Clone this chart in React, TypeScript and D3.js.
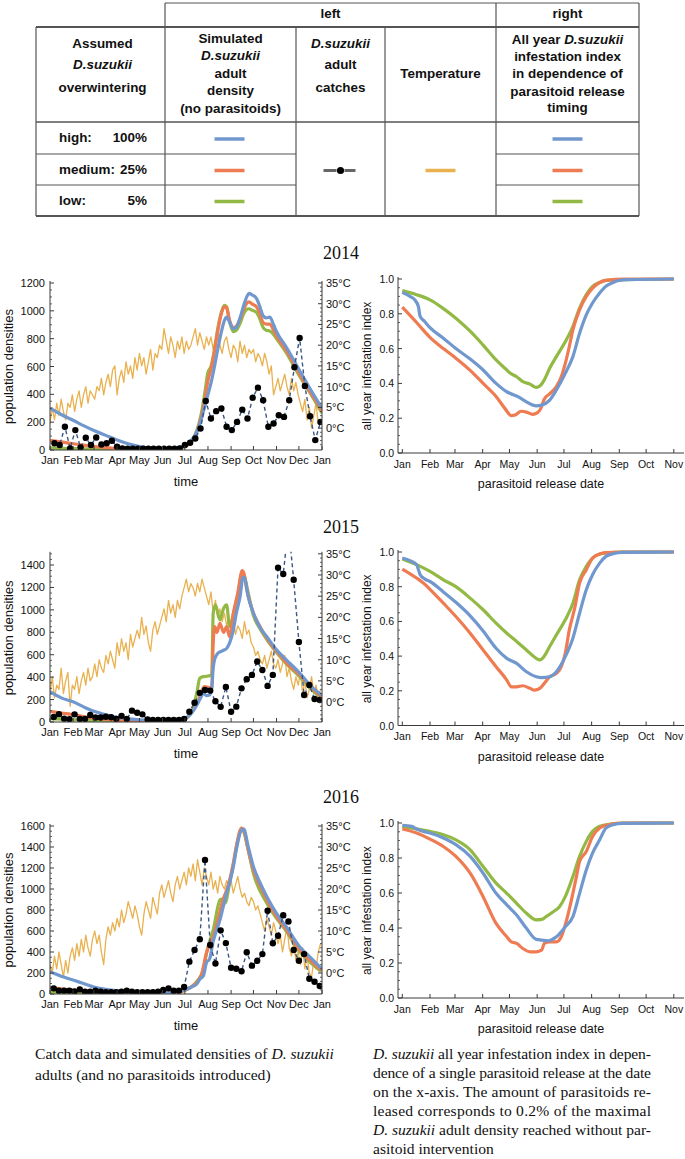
import React from "react";
import * as d3 from "d3";

const SANS = "'Liberation Sans', Arial, Helvetica, sans-serif";
const SERIF = "'Liberation Serif', 'Times New Roman', Times, serif";

const C_HIGH = "#7198ce";
const C_MED = "#ef7b52";
const C_LOW = "#93b945";
const C_TEMP = "#e9b14f";
const C_CATCH = "#3a5783";
const AXIS = "#3a3a3a";

const MONTH_START_DAYS = [0, 31, 59, 90, 120, 151, 181, 212, 243, 273, 304, 334, 365];
const MONTH_LABELS = ["Jan", "Feb", "Mar", "Apr", "May", "Jun", "Jul", "Aug", "Sep", "Oct", "Nov", "Dec", "Jan"];
const TEMP_STEP_DAYS = 3;
const CATCH_STEP_DAYS = 7;
const YEARS = [2014, 2015, 2016];

// ---- daily temperature (every 3rd day), °C ----
const temp2014 = [1, 5, 2, 6, 3, 7, 4, 2, 6, 5, 8, 4, 7, 9, 5, 8, 10, 6, 9, 8, 7, 10, 9, 12, 8, 11, 13, 10, 14, 15, 8, 12, 14, 11, 16, 13, 15, 12, 17, 14, 18, 15, 17, 13, 16, 19, 14, 18, 17, 20, 19, 24, 21, 18, 22, 20, 17, 21, 19, 22, 18, 21, 19, 20, 22, 24, 20, 23, 21, 19, 22, 20, 22, 19, 21, 23, 20, 18, 21, 22, 19, 17, 20, 19, 16, 21, 18, 20, 17, 19, 18, 19, 16, 18, 17, 15, 18, 16, 13, 15, 8, 10, 12, 9, 11, 13, 10, 8, 12, 9, 11, 8, 6, 4, 7, 2, 5, 0, 3, 6, 1, 2];
const temp2015 = [2, 6, 1, 4, 3, 8, 2, 5, 7, -1, 4, 3, 6, 2, 5, 7, 4, 8, 5, 6, 9, 6, 10, 8, 7, 11, 9, 12, 10, 8, 14, 11, 15, 12, 14, 10, 16, 13, 15, 17, 15, 20, 16, 18, 14, 12, 17, 19, 16, 18, 20, 22, 19, 24, 21, 23, 20, 24, 22, 25, 27, 29, 26, 28, 27, 25, 28, 26, 29, 27, 25, 23, 26, 21, 24, 20, 22, 19, 21, 18, 20, 17, 19, 16, 18, 17, 15, 19, 16, 17, 14, 13, 11, 12, 10, 9, 11, 8, 10, 12, 9, 8, 10, 7, 9, 11, 6, 8, 5, 3, 6, 4, 7, 2, 5, 1, 3, 6, 2, 4, 1, 3];
const temp2016 = [2, 0, 4, 1, 5, 2, -1, 3, 0, 4, 6, 3, 7, 4, 8, 5, 9, 6, 4, 8, 10, 7, 9, 5, 2, 8, 11, 9, 12, 10, 13, 11, 15, 12, 14, 17, 15, 13, 16, 14, 11, 9, 14, 17, 15, 13, 18, 16, 14, 19, 21, 18, 20, 22, 19, 17, 21, 23, 20, 22, 24, 21, 25, 23, 26, 22, 27, 24, 21, 25, 23, 21, 24, 20, 22, 19, 23, 21, 20, 22, 21, 22, 19, 21, 23, 20, 18, 19, 17, 16, 18, 17, 15, 16, 14, 12, 10, 13, 11, 9, 12, 10, 7, 9, 5, 8, 11, 6, 4, 7, 3, 5, 2, 6, 1, 4, 0, -1, 3, 1, 5, 7];

// ---- simulated adult densities [day, density] ----
const simHigh2014: [number, number][] = [[0, 300], [15, 255], [31, 214], [45, 175], [59, 140], [75, 105], [90, 72], [105, 45], [120, 25], [135, 14], [151, 10], [165, 12], [181, 30], [190, 70], [197, 130], [203, 220], [208, 320], [212, 400], [216, 480], [220, 580], [225, 720], [230, 850], [234, 930], [237, 955], [241, 920], [246, 870], [250, 880], [255, 950], [260, 1040], [264, 1100], [267, 1125], [271, 1115], [277, 1090], [281, 1040], [286, 965], [290, 950], [295, 955], [300, 900], [304, 850], [317, 740], [335, 570], [349, 440], [365, 300]];
const simMed2014: [number, number][] = [[0, 70], [15, 58], [31, 45], [45, 35], [59, 25], [75, 17], [90, 10], [105, 6], [120, 4], [135, 3], [151, 4], [165, 8], [181, 25], [190, 60], [197, 130], [203, 240], [208, 370], [212, 500], [216, 580], [220, 690], [225, 850], [230, 980], [234, 1030], [237, 1020], [241, 930], [246, 880], [250, 890], [255, 940], [260, 1010], [264, 1055], [267, 1065], [271, 1050], [277, 1030], [281, 990], [286, 915], [290, 905], [295, 905], [300, 860], [304, 820], [317, 715], [335, 545], [349, 420], [365, 280]];
const simLow2014: [number, number][] = [[0, 15], [15, 12], [31, 10], [45, 8], [59, 6], [75, 4], [90, 3], [105, 2], [120, 2], [135, 2], [151, 3], [165, 6], [181, 25], [190, 65], [197, 140], [203, 260], [208, 420], [212, 560], [216, 600], [220, 700], [225, 870], [230, 990], [234, 1040], [237, 1030], [241, 920], [246, 850], [250, 860], [255, 910], [260, 980], [264, 1010], [267, 1015], [271, 1005], [277, 990], [281, 950], [286, 880], [290, 860], [295, 855], [300, 830], [304, 800], [317, 700], [335, 530], [349, 410], [365, 265]];

const simHigh2015: [number, number][] = [[0, 270], [15, 215], [31, 180], [45, 135], [59, 95], [75, 65], [90, 42], [105, 28], [120, 20], [135, 14], [151, 10], [165, 14], [181, 30], [190, 80], [197, 150], [201, 200], [206, 255], [210, 235], [214, 240], [217, 300], [219, 480], [221, 560], [225, 610], [228, 625], [233, 640], [237, 655], [241, 705], [246, 820], [250, 970], [255, 1115], [259, 1290], [261, 1285], [266, 1115], [273, 970], [282, 840], [291, 760], [304, 645], [317, 555], [335, 437], [349, 330], [364, 241]];
const simMed2015: [number, number][] = [[0, 95], [15, 80], [31, 65], [45, 48], [59, 35], [75, 24], [90, 15], [105, 10], [120, 7], [135, 6], [151, 7], [165, 12], [181, 30], [190, 85], [197, 160], [201, 225], [207, 315], [212, 310], [217, 300], [219, 700], [221, 850], [224, 800], [228, 880], [233, 800], [237, 850], [241, 760], [246, 970], [252, 1150], [258, 1350], [260, 1330], [264, 1180], [273, 970], [282, 850], [291, 745], [304, 630], [317, 530], [335, 420], [349, 320], [364, 225]];
const simLow2015: [number, number][] = [[0, 30], [15, 25], [31, 20], [45, 15], [59, 11], [75, 8], [90, 5], [105, 4], [120, 3], [135, 3], [151, 4], [165, 10], [181, 30], [190, 90], [197, 260], [201, 390], [206, 405], [212, 410], [217, 420], [219, 970], [222, 1045], [228, 910], [233, 1015], [237, 1045], [241, 850], [246, 960], [252, 1135], [258, 1330], [261, 1300], [266, 1150], [273, 950], [282, 830], [291, 735], [304, 620], [317, 520], [335, 405], [349, 305], [364, 210]];

const simHigh2016: [number, number][] = [[0, 212], [15, 170], [31, 133], [45, 100], [59, 67], [75, 45], [90, 30], [105, 20], [120, 14], [135, 10], [151, 8], [165, 15], [181, 40], [190, 67], [197, 95], [201, 140], [206, 175], [210, 300], [214, 330], [219, 500], [228, 705], [237, 962], [241, 1057], [246, 1212], [250, 1371], [257, 1562], [260, 1570], [266, 1403], [273, 1212], [282, 1057], [291, 927], [304, 768], [317, 641], [335, 450], [349, 352], [364, 244]];
const simMed2016: [number, number][] = [[0, 60], [15, 48], [31, 38], [45, 30], [59, 22], [75, 15], [90, 10], [105, 7], [120, 5], [135, 4], [151, 5], [165, 10], [181, 35], [190, 70], [197, 110], [203, 180], [210, 390], [214, 470], [219, 546], [226, 724], [232, 895], [237, 990], [241, 1085], [246, 1248], [250, 1403], [257, 1581], [260, 1560], [266, 1370], [273, 1180], [282, 1030], [291, 896], [304, 740], [317, 615], [335, 419], [349, 320], [364, 229]];
const simLow2016: [number, number][] = [[0, 20], [15, 16], [31, 12], [45, 9], [59, 7], [75, 5], [90, 4], [105, 3], [120, 2], [135, 2], [151, 3], [165, 8], [181, 35], [190, 70], [197, 120], [206, 229], [210, 390], [219, 610], [228, 895], [230, 905], [235, 866], [241, 1057], [246, 1230], [252, 1467], [257, 1568], [259, 1560], [266, 1370], [273, 1148], [291, 864], [304, 720], [317, 600], [335, 403], [349, 305], [364, 213]];

// ---- weekly adult catches ----
const catchStart = { 2014: 6, 2015: 5, 2016: 5 };
const catches2014 = [48, 36, 167, 12, 143, 19, 88, 36, 90, 40, 48, 67, 24, 12, 10, 9, 9, 10, 9, 9, 10, 10, 9, 10, 12, 36, 52, 83, 155, 352, 226, 279, 298, 167, 143, 202, 290, 226, 376, 448, 357, 167, 190, 250, 238, 357, 595, 805, 460, 243, 71, 202];
const catches2015 = [45, 70, 30, 25, 68, 27, 27, 62, 40, 40, 47, 43, 27, 55, 27, 101, 83, 68, 22, 18, 18, 18, 18, 18, 18, 27, 92, 172, 260, 285, 280, 185, 135, 312, 92, 137, 300, 381, 420, 539, 464, 322, 420, 1375, 1320, 1750, 1268, 714, 241, 330, 205, 196];
const catches2016 = [54, 32, 32, 32, 25, 44, 22, 22, 32, 22, 18, 18, 18, 22, 32, 22, 18, 18, 18, 18, 22, 38, 54, 32, 32, 67, 308, 419, 521, 1276, 467, 290, 606, 485, 250, 241, 216, 398, 270, 316, 380, 793, 483, 555, 750, 690, 419, 316, 380, 145, 117, 76];

// ---- all year infestation index vs release day [day, index] ----
const idxHigh2014: [number, number][] = [[0, .923], [8.6, .90], [14, .88], [18, .842], [20, .785], [25, .756], [31, .72], [46, .66], [60, .60], [76, .54], [90.5, .477], [105, .40], [117, .352], [121, .342], [130, .323], [139, .294], [150, .271], [156, .275], [165, .304], [172.5, .362], [182.5, .458], [191, .554], [198.5, .688], [206, .794], [213, .862], [221, .919], [228, .958], [236, .98], [243, .992], [254, .996], [304, 1.0]];
const idxMed2014: [number, number][] = [[0, .838], [16, .75], [31, .665], [46, .60], [60, .545], [76, .475], [90.5, .40], [105, .325], [115, .255], [122, .215], [127, .22], [133, .24], [139, .235], [146, .222], [151, .23], [155, .255], [159, .31], [165, .34], [172.5, .381], [178, .438], [182.5, .515], [187, .612], [191, .708], [198.5, .823], [206, .90], [213, .948], [221, .98], [228, .992], [250, 1.0], [304, 1.0]];
const idxLow2014: [number, number][] = [[0, .933], [16, .91], [31, .88], [46, .83], [60, .775], [76, .70], [90.5, .62], [105, .535], [117, .477], [121, .458], [128, .438], [135, .41], [143, .396], [150, .377], [154, .385], [159, .42], [165, .487], [172.5, .554], [182.5, .64], [191, .727], [198.5, .833], [206, .91], [213, .958], [221, .98], [228, .992], [243, .996], [304, 1.0]];

const idxHigh2015: [number, number][] = [[0, .965], [10.4, .946], [16, .927], [20, .869], [25, .845], [31, .83], [46, .77], [60, .71], [76, .632], [90.5, .545], [105, .445], [117, .387], [128, .358], [139, .31], [150, .281], [156, .276], [165, .281], [172.5, .31], [182.5, .397], [191, .503], [198.5, .647], [206, .782], [213, .869], [221, .936], [228, .975], [236, .99], [247, .998], [304, 1.0]];
const idxMed2015: [number, number][] = [[0, .902], [16, .85], [25, .815], [31, .785], [46, .705], [60, .628], [76, .532], [90.5, .435], [105, .339], [117, .262], [122, .223], [128, .223], [135, .229], [143, .214], [148, .204], [154, .214], [159, .243], [165, .281], [172.5, .30], [178, .339], [182.5, .416], [187, .551], [193, .676], [198.5, .821], [206, .898], [213, .965], [221, .988], [228, .996], [247, 1.0], [304, 1.0]];
const idxLow2015: [number, number][] = [[0, .96], [16, .927], [31, .888], [46, .84], [60, .80], [76, .734], [90.5, .667], [105, .59], [117, .532], [128, .484], [139, .435], [150, .387], [154, .378], [159, .40], [165, .455], [172.5, .522], [182.5, .609], [191, .705], [198.5, .84], [206, .917], [213, .965], [221, .988], [228, .994], [247, 1.0], [304, 1.0]];

const idxHigh2016: [number, number][] = [[0, .987], [10.4, .981], [16, .966], [23.5, .952], [31, .943], [46, .914], [60, .876], [76, .809], [90.5, .713], [105, .598], [117, .532], [128, .474], [139, .398], [150, .335], [156, .331], [163, .327], [172.5, .35], [182.5, .407], [191, .465], [198.5, .598], [206, .732], [213, .828], [221, .904], [228, .971], [236, .99], [247, .998], [304, 1.0]];
const idxMed2016: [number, number][] = [[0, .966], [16, .943], [31, .908], [46, .866], [60, .809], [76, .713], [90.5, .579], [105, .426], [117, .35], [122, .321], [128, .312], [135, .283], [143, .264], [150, .264], [156, .273], [159, .312], [165, .321], [172.5, .321], [178, .35], [184, .446], [191, .598], [195, .694], [198.5, .78], [206, .837], [213, .923], [221, .971], [228, .987], [247, 1.0], [304, 1.0]];
const idxLow2016: [number, number][] = [[0, .98], [16, .966], [31, .952], [46, .933], [60, .904], [76, .847], [90.5, .751], [105, .656], [117, .598], [128, .541], [139, .484], [150, .446], [156, .449], [161, .465], [169, .493], [176, .522], [182.5, .579], [191, .694], [198.5, .809], [206, .895], [213, .952], [221, .981], [228, .99], [247, 1.0], [304, 1.0]];

const DATA: any = {
  2014: { temp: temp2014, high: simHigh2014, med: simMed2014, low: simLow2014, catches: catches2014, iH: idxHigh2014, iM: idxMed2014, iL: idxLow2014 },
  2015: { temp: temp2015, high: simHigh2015, med: simMed2015, low: simLow2015, catches: catches2015, iH: idxHigh2015, iM: idxMed2015, iL: idxLow2015 },
  2016: { temp: temp2016, high: simHigh2016, med: simMed2016, low: simLow2016, catches: catches2016, iH: idxHigh2016, iM: idxMed2016, iL: idxLow2016 },
};

// ---- layout ----
const LEFT_LAYOUT: any = {
  2014: { top: 283, bottom: 450, popMax: 1200, tempMin: -5.28, titleY: 259 },
  2015: { top: 553.8, bottom: 722, popMax: 1500, tempMin: -4.7, titleY: 533 },
  2016: { top: 826, bottom: 994, popMax: 1600, tempMin: -5.0, titleY: 803 },
};
const RIGHT_LAYOUT: any = {
  2014: { top: 279, bottom: 453 },
  2015: { top: 552, bottom: 725.5 },
  2016: { top: 823, bottom: 998 },
};

function LeftPanel({ year }: { year: number }) {
  const L = LEFT_LAYOUT[year];
  const D = DATA[year];
  const x = d3.scaleLinear().domain([0, 365]).range([50, 322]);
  const y = d3.scaleLinear().domain([0, L.popMax]).range([L.bottom, L.top]);
  const yt = d3.scaleLinear().domain([L.tempMin, 35]).range([L.bottom, L.top]);
  const tempLine = d3.line<number>().x((_, i) => x(i * TEMP_STEP_DAYS)).y((d) => yt(d));
  const simLine = d3.line<[number, number]>().x((d) => x(d[0])).y((d) => y(d[1])).curve(d3.curveMonotoneX);
  const cs = (catchStart as any)[year];
  const catchPts: [number, number][] = D.catches.map((v: number, i: number) => [cs + i * CATCH_STEP_DAYS, v]);
  const catchLine = d3.line<[number, number]>().x((d) => x(d[0])).y((d) => y(d[1]));
  const majors = d3.range(0, L.popMax + 1, 200);
  const minors = d3.range(0, L.popMax + 1, 50).filter((v) => v % 200 !== 0);
  const tMaj = d3.range(0, 36, 5);
  const tMin = d3.range(-5, 36, 1).filter((v) => v % 5 !== 0 && v >= L.tempMin);
  const clipId = `clipL${year}`;
  const [x0, x1] = x.range();
  const yTopAxis = L.top - 2;
  return (
    <g>
      <defs>
        <clipPath id={clipId}>
          <rect x={x0} y={L.top - 2} width={x1 - x0} height={L.bottom - L.top + 2} />
        </clipPath>
      </defs>
      <g clipPath={`url(#${clipId})`}>
        <path d={tempLine(D.temp) || ""} fill="none" stroke={C_TEMP} strokeWidth={1.3} strokeLinejoin="round" />
        <path d={simLine(D.low) || ""} fill="none" stroke={C_LOW} strokeWidth={3.2} strokeLinejoin="round" />
        <path d={simLine(D.med) || ""} fill="none" stroke={C_MED} strokeWidth={3.2} strokeLinejoin="round" />
        <path d={simLine(D.high) || ""} fill="none" stroke={C_HIGH} strokeWidth={3.2} strokeLinejoin="round" />
        <path d={catchLine(catchPts) || ""} fill="none" stroke={C_CATCH} strokeWidth={1.4} strokeDasharray="4 3" />
        {catchPts.map((p, i) => (
          <circle key={i} cx={x(p[0])} cy={y(p[1])} r={3.2} fill="#000" />
        ))}
      </g>
      <line x1={x0} x2={x0} y1={yTopAxis} y2={L.bottom} stroke={AXIS} strokeWidth={1} />
      <line x1={x1} x2={x1} y1={yTopAxis} y2={L.bottom} stroke={AXIS} strokeWidth={1} />
      <line x1={x0} x2={x1} y1={L.bottom} y2={L.bottom} stroke={AXIS} strokeWidth={1} />
      {majors.map((v) => (
        <g key={"m" + v}>
          <line x1={x0} x2={x0 + 4} y1={y(v)} y2={y(v)} stroke={AXIS} />
          <text x={x0 - 5} y={y(v) + 4} textAnchor="end" fontFamily={SANS} fontSize={11} fill="#111">{v}</text>
        </g>
      ))}
      {minors.map((v) => (
        <line key={"n" + v} x1={x0} x2={x0 + 2} y1={y(v)} y2={y(v)} stroke={AXIS} strokeWidth={0.8} />
      ))}
      {tMaj.map((v) => (
        <g key={"t" + v}>
          <line x1={x1 - 4} x2={x1} y1={yt(v)} y2={yt(v)} stroke={AXIS} />
          <text x={x1 + 4} y={yt(v) + 4} textAnchor="start" fontFamily={SANS} fontSize={11} fill="#111">{`${v}°C`}</text>
        </g>
      ))}
      {tMin.map((v) => (
        <line key={"u" + v} x1={x1 - 2} x2={x1} y1={yt(v)} y2={yt(v)} stroke={AXIS} strokeWidth={0.8} />
      ))}
      {MONTH_START_DAYS.map((d, i) => (
        <g key={"x" + i}>
          <line x1={x(d)} x2={x(d)} y1={L.bottom} y2={L.bottom - 4} stroke={AXIS} />
          <text x={x(d)} y={L.bottom + 14} textAnchor="middle" fontFamily={SANS} fontSize={11} fill="#111">{MONTH_LABELS[i]}</text>
        </g>
      ))}
      <text x={(x0 + x1) / 2} y={L.bottom + 36} textAnchor="middle" fontFamily={SANS} fontSize={13} fill="#111">time</text>
      <text transform={`translate(13,${(L.top + L.bottom) / 2}) rotate(-90)`} textAnchor="middle" fontFamily={SANS} fontSize={13} fill="#111">population densities</text>
      <text x={341} y={L.titleY} textAnchor="middle" fontFamily={SERIF} fontSize={18} fill="#111">{year}</text>
    </g>
  );
}

function RightPanel({ year }: { year: number }) {
  const R = RIGHT_LAYOUT[year];
  const D = DATA[year];
  const x = d3.scaleLinear().domain([0, 304]).range([402.3, 673.8]);
  const y = d3.scaleLinear().domain([0, 1]).range([R.bottom, R.top]);
  const line = d3.line<[number, number]>().x((d) => x(d[0])).y((d) => y(d[1])).curve(d3.curveMonotoneX);
  const ax0 = 398, ax1 = 684;
  const majors = d3.range(0, 1.0001, 0.2);
  const minors = d3.range(0, 1.0001, 0.05).filter((v) => Math.abs(Math.round(v / 0.2) * 0.2 - v) > 1e-6);
  const fmt = d3.format(".1f");
  return (
    <g>
      <path d={line(D.iL) || ""} fill="none" stroke={C_LOW} strokeWidth={3.2} strokeLinejoin="round" />
      <path d={line(D.iM) || ""} fill="none" stroke={C_MED} strokeWidth={3.2} strokeLinejoin="round" />
      <path d={line(D.iH) || ""} fill="none" stroke={C_HIGH} strokeWidth={3.2} strokeLinejoin="round" />
      <line x1={ax0} x2={ax0} y1={R.top - 2} y2={R.bottom} stroke={AXIS} />
      <line x1={ax0} x2={ax1} y1={R.bottom} y2={R.bottom} stroke={AXIS} />
      {majors.map((v, i) => (
        <g key={"m" + i}>
          <line x1={ax0} x2={ax0 + 4} y1={y(v)} y2={y(v)} stroke={AXIS} />
          <text x={ax0 - 4} y={y(v) + 4} textAnchor="end" fontFamily={SANS} fontSize={10.5} fill="#111">{fmt(v)}</text>
        </g>
      ))}
      {minors.map((v, i) => (
        <line key={"n" + i} x1={ax0} x2={ax0 + 2} y1={y(v)} y2={y(v)} stroke={AXIS} strokeWidth={0.8} />
      ))}
      {MONTH_START_DAYS.slice(0, 11).map((d, i) => (
        <g key={"x" + i}>
          <line x1={x(d)} x2={x(d)} y1={R.bottom} y2={R.bottom - 4} stroke={AXIS} />
          <text x={x(d)} y={R.bottom + 14.5} textAnchor="middle" fontFamily={SANS} fontSize={10.5} fill="#111">{MONTH_LABELS[i]}</text>
        </g>
      ))}
      <text x={(ax0 + ax1) / 2} y={R.bottom + 35} textAnchor="middle" fontFamily={SANS} fontSize={12.5} fill="#111">parasitoid release date</text>
      <text transform={`translate(371,${(R.top + R.bottom) / 2}) rotate(-90)`} textAnchor="middle" fontFamily={SANS} fontSize={12} fill="#111">all year infestation index</text>
    </g>
  );
}

const TX = [36, 165, 296, 385, 496, 639];
const TY = { top: 3, head: 27, body: 122, r1: 154, r2: 185, bottom: 216 };

function TT({ x, y, children, anchor = "middle" }: any) {
  return (
    <text transform={`translate(${x},${y}) scale(1.12,1)`} textAnchor={anchor} fontFamily={SANS} fontWeight="bold" fontSize={12} fill="#111">
      {children}
    </text>
  );
}
const It = ({ children }: any) => <tspan fontStyle="italic">{children}</tspan>;

function LegendTable() {
  const bc = "#555";
  const c1 = (TX[0] + TX[1]) / 2 + 2, c2 = (TX[1] + TX[2]) / 2, c3 = (TX[2] + TX[3]) / 2, c4 = (TX[3] + TX[4]) / 2, c5 = (TX[4] + TX[5]) / 2;
  const rowY = [(TY.body + TY.r1) / 2, (TY.r1 + TY.r2) / 2, (TY.r2 + TY.bottom) / 2];
  const sw = (cx: number, cy: number, col: string) => <line x1={cx - 15} x2={cx + 15} y1={cy} y2={cy} stroke={col} strokeWidth={3.5} />;
  const swColors = [C_HIGH, C_MED, C_LOW];
  return (
    <g>
      <line x1={TX[1]} x2={TX[5]} y1={TY.top} y2={TY.top} stroke={bc} strokeWidth={1.2} />
      <line x1={TX[0]} x2={TX[5]} y1={TY.head} y2={TY.head} stroke={bc} strokeWidth={2.2} />
      <line x1={TX[0]} x2={TX[5]} y1={TY.body} y2={TY.body} stroke={bc} strokeWidth={1.4} />
      <line x1={TX[0]} x2={TX[2]} y1={TY.r1} y2={TY.r1} stroke={bc} strokeWidth={1.2} />
      <line x1={TX[4]} x2={TX[5]} y1={TY.r1} y2={TY.r1} stroke={bc} strokeWidth={1.2} />
      <line x1={TX[0]} x2={TX[2]} y1={TY.r2} y2={TY.r2} stroke={bc} strokeWidth={1.2} />
      <line x1={TX[4]} x2={TX[5]} y1={TY.r2} y2={TY.r2} stroke={bc} strokeWidth={1.2} />
      <line x1={TX[0]} x2={TX[5]} y1={TY.bottom} y2={TY.bottom} stroke={bc} strokeWidth={2} />
      {[1, 4, 5].map((i) => (
        <line key={"h" + i} x1={TX[i]} x2={TX[i]} y1={TY.top} y2={TY.head} stroke={bc} strokeWidth={1.2} />
      ))}
      {TX.map((xx, i) => (
        <line key={"v" + i} x1={xx} x2={xx} y1={TY.head} y2={TY.bottom} stroke={bc} strokeWidth={1.2} />
      ))}
      <TT x={(TX[1] + TX[4]) / 2} y={18}>left</TT>
      <TT x={c5} y={18}>right</TT>

      <TT x={c1} y={48}>Assumed</TT>
      <TT x={c1} y={69}><It>D.suzukii</It></TT>
      <TT x={c1} y={92}>overwintering</TT>

      <TT x={c2} y={43}>Simulated</TT>
      <TT x={c2} y={60}><It>D.suzukii</It></TT>
      <TT x={c2} y={78}>adult</TT>
      <TT x={c2} y={95}>density</TT>
      <TT x={c2} y={113}>(no parasitoids)</TT>

      <TT x={c3} y={48}><It>D.suzukii</It></TT>
      <TT x={c3} y={69}>adult</TT>
      <TT x={c3} y={92}>catches</TT>

      <TT x={c4} y={78}>Temperature</TT>

      <TT x={c5} y={44}>All year <It>D.suzukii</It></TT>
      <TT x={c5} y={61}>infestation index</TT>
      <TT x={c5} y={78}>in dependence of</TT>
      <TT x={c5} y={96}>parasitoid release</TT>
      <TT x={c5} y={112}>timing</TT>

      <TT x={59} y={rowY[0] + 4} anchor="start">high:</TT>
      <TT x={147} y={rowY[0] + 4} anchor="end">100%</TT>
      <TT x={59} y={rowY[1] + 4} anchor="start">medium:</TT>
      <TT x={147} y={rowY[1] + 4} anchor="end">25%</TT>
      <TT x={59} y={rowY[2] + 4} anchor="start">low:</TT>
      <TT x={147} y={rowY[2] + 4} anchor="end">5%</TT>

      {rowY.map((cy, i) => <g key={"s" + i}>{sw(c2 - 1, cy + 1, swColors[i])}{sw(c5, cy + 1, swColors[i])}</g>)}
      <line x1={c3 - 17} x2={c3 - 4} y1={rowY[1] + 1} y2={rowY[1] + 1} stroke="#666" strokeWidth={3} />
      <line x1={c3 + 4} x2={c3 + 15} y1={rowY[1] + 1} y2={rowY[1] + 1} stroke="#666" strokeWidth={3} />
      <circle cx={c3} cy={rowY[1] + 1} r={3.6} fill="#000" />
      {sw(c4, rowY[1] + 1, C_TEMP)}
    </g>
  );
}

function Captions() {
  const rx = 373, rw = 278;
  const lines = [
    <><It>D. suzukii</It> all year infestation index in depen-</>,
    <>dence of a single parasitoid release at the date</>,
    <>on the x-axis. The amount of parasitoids re-</>,
    <>leased corresponds to 0.2% of the maximal</>,
    <><It>D. suzukii</It> adult density reached without par-</>,
    <>asitoid intervention</>,
  ];
  return (
    <g fontFamily={SERIF} fontSize={15.6} fill="#111">
      <text x={35} y={1059}>Catch data and simulated densities of <It>D. suzukii</It></text>
      <text x={35} y={1080}>adults (and no parasitoids introduced)</text>
      {lines.map((l, i) => (
        <text key={i} x={rx} y={1059 + i * 19} {...(i < 5 ? { textLength: rw, lengthAdjust: "spacing" } : {})}>{l}</text>
      ))}
    </g>
  );
}

export default function App() {
  return (
    <svg width={685} height={1159} viewBox="0 0 685 1159" style={{ position: "absolute", left: 0, top: 0, background: "#fff" }}>
      <rect x={0} y={0} width={685} height={1159} fill="#fff" />
      <LegendTable />
      {YEARS.map((yr) => (
        <g key={yr}>
          <LeftPanel year={yr} />
          <RightPanel year={yr} />
        </g>
      ))}
      <Captions />
    </svg>
  );
}
